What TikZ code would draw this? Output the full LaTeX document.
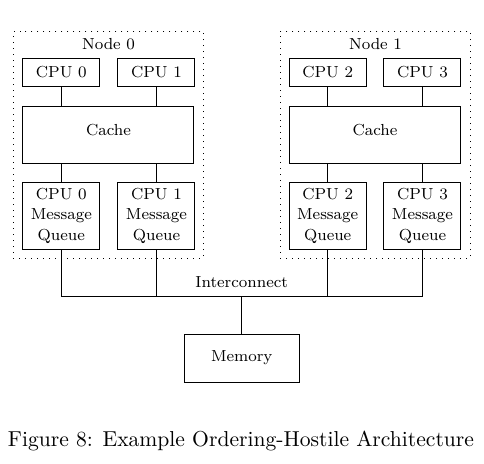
\documentclass[tikz,border=0pt]{standalone}
\begin{document}
\begin{tikzpicture}[x=0.5pt,y=-0.5pt,
  box/.style={draw,line width=0.5pt,inner sep=0pt,font=\fontsize{8}{10.25}\selectfont,align=center},
  cpubox/.style={box,minimum width=38.5pt,minimum height=14pt},
  cachebox/.style={box,minimum width=85.5pt,minimum height=28.5pt,text depth=5pt},
  mqbox/.style={box,minimum width=38.5pt,minimum height=33.5pt},
  grp/.style={draw,line width=0.5pt,dash pattern=on 0.5pt off 2.5pt,inner sep=0pt,minimum width=95pt,minimum height=113.5pt},
  lbl/.style={font=\fontsize{8}{10.25}\selectfont,inner sep=0pt},
  conn/.style={line width=0.5pt}]
\useasboundingbox (0,0) rectangle (484,463);
% groups
\node[grp] (g0) at (108.5,144.5) {};
\node[grp] (g1) at (375.5,144.5) {};
\node[lbl] (g0l) at (108.5,44.5) {Node 0};
\node[lbl] (g1l) at (375.5,44.5) {Node 1};
% node 0
\node[cpubox] (cpu0) at (61.3,72.5) {CPU 0};
\node[cpubox] (cpu1) at (156.5,72.5) {CPU 1};
\node[cachebox] (cache0) at (108.5,134.7) {Cache};
\node[mqbox] (mq0) at (61.3,215.7) {CPU 0\\Message\\Queue};
\node[mqbox] (mq1) at (156.5,215.7) {CPU 1\\Message\\Queue};
% node 1
\node[cpubox] (cpu2) at (327.7,72.5) {CPU 2};
\node[cpubox] (cpu3) at (422.5,72.5) {CPU 3};
\node[cachebox] (cache1) at (375,134.7) {Cache};
\node[mqbox] (mq2) at (327.7,215.7) {CPU 2\\Message\\Queue};
\node[mqbox] (mq3) at (422.5,215.7) {CPU 3\\Message\\Queue};
% memory
\node[box,minimum width=57.5pt,minimum height=24pt] (mem) at (241.7,358) {Memory};
\coordinate (ic) at (241.7,296);
\node[lbl] (icl) at (241.7,282) {Interconnect};
% connectors
\foreach \c/\k in {cpu0/cache0,cpu1/cache0,cpu2/cache1,cpu3/cache1}
  \draw[conn] (\c.south) -- (\c.south |- \k.north);
\foreach \m/\k in {mq0/cache0,mq1/cache0,mq2/cache1,mq3/cache1}
  \draw[conn] (\m.north) -- (\m.north |- \k.south);
\draw[conn] (mq0.south) -- (mq0.south |- ic) -- (mq3.south |- ic) -- (mq3.south);
\draw[conn] (mq1.south) -- (mq1.south |- ic);
\draw[conn] (mq2.south) -- (mq2.south |- ic);
\draw[conn] (ic) -- (mem.north);
% caption
\node[inner sep=0pt,font=\fontsize{10.8}{13}\selectfont] (cap) at (241,441) {Figure 8: Example Ordering-Hostile Architecture};
\end{tikzpicture}
\end{document}
